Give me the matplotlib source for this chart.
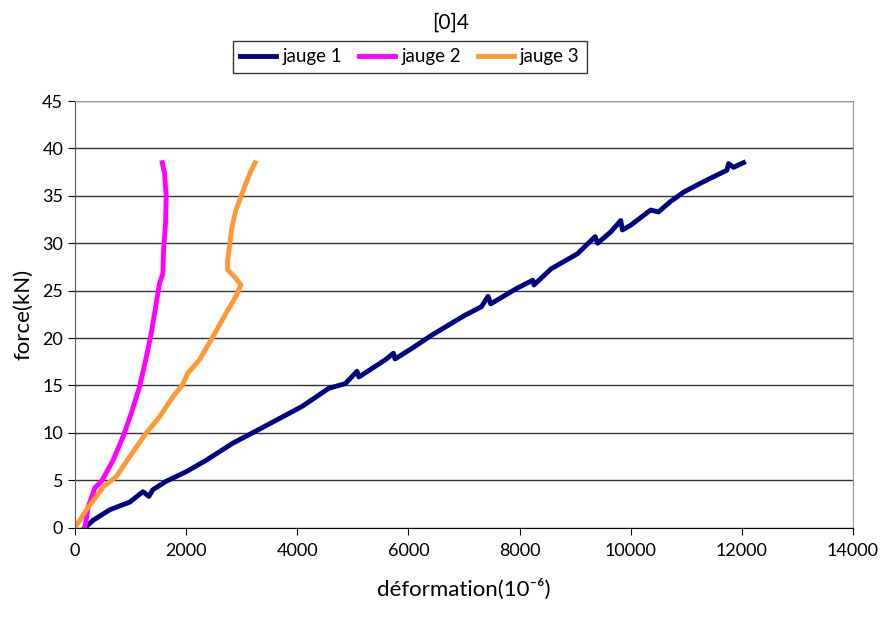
import matplotlib.pyplot as plt

# valeurs (déformation en 10^-6, force en kN)
j1_def = [180, 330, 630, 985, 1224, 1330, 1400, 1642, 2000, 2358, 2836, 3194, 3642,
          4090, 4567, 4866, 5075, 5110, 5582, 5730, 5760, 6060, 6418, 7015, 7313,
          7433, 7480, 7851, 7970, 8239, 8260, 8567, 9045, 9360, 9403, 9642, 9821,
          9850, 9999, 10358, 10500, 10716, 10955, 11313, 11731, 11761, 11850, 12030]
j1_force = [0, 0.8, 1.9, 2.7, 3.8, 3.3, 4.0, 4.9, 5.9, 7.1, 8.9, 10.0, 11.4,
            12.8, 14.7, 15.2, 16.5, 15.9, 17.7, 18.4, 17.8, 18.9, 20.3, 22.4, 23.3,
            24.4, 23.6, 24.9, 25.3, 26.1, 25.6, 27.3, 28.9, 30.7, 30.0, 31.2, 32.4,
            31.4, 31.9, 33.5, 33.3, 34.4, 35.4, 36.5, 37.7, 38.4, 38.0, 38.5]

j2_def = [179, 238, 358, 478, 686, 865, 1015, 1164, 1284, 1373, 1463, 1523, 1582,
          1594, 1630, 1642, 1612, 1570]
j2_force = [0, 2.2, 4.2, 4.9, 7.1, 9.6, 12.1, 14.9, 18.0, 20.5, 23.7, 25.8, 26.8,
            29.3, 32.1, 34.9, 37.4, 38.5]

j3_def = [0, 209, 508, 746, 985, 1284, 1523, 1761, 1940, 2030, 2239, 2478, 2717,
          2896, 2986, 2866, 2746, 2746, 2789, 2824, 2896, 2986, 3075, 3165, 3242]
j3_force = [0, 1.9, 4.3, 5.4, 7.5, 10.0, 11.7, 13.8, 15.1, 16.3, 17.7, 20.1, 22.6,
            24.4, 25.6, 26.5, 27.2, 28.2, 30.0, 31.7, 33.5, 34.9, 36.3, 37.6, 38.5]

plt.rcParams['font.family'] = ['Lato', 'DejaVu Sans']

fig = plt.figure(figsize=(8.8, 6.19), dpi=100)
ax = fig.add_axes([0.0852, 0.1475, 0.8841, 0.6893])

ax.plot(j1_def, j1_force, color='#000080', lw=3.5, label='jauge 1')
ax.plot(j2_def, j2_force, color='#FF00FF', lw=3.5, label='jauge 2')
ax.plot(j3_def, j3_force, color='#FF9933', lw=3.5, label='jauge 3')

ax.set_xlim(0, 14000)
ax.set_ylim(0, 45)
ax.set_xticks(range(0, 14001, 2000))
ax.set_yticks(range(0, 46, 5))
ax.yaxis.grid(True, color='#333333', lw=1)
ax.set_axisbelow(True)
ax.tick_params(direction='out', length=5, labelsize=13, color='black')
ax.tick_params(axis='x', pad=6)

for s in ['top', 'right']:
    ax.spines[s].set_color('#999999')
ax.spines['left'].set_color('#555555')
ax.spines['bottom'].set_color('black')

ax.set_xlabel('déformation(10⁻⁶)', fontsize=16, labelpad=14)
ax.set_ylabel('force(kN)', fontsize=16, labelpad=6)

fig.text(0.512, 0.963, '[0]4', ha='center', va='center', fontsize=15)
fig.legend(loc='center', bbox_to_anchor=(0.466, 0.908), ncol=3, fontsize=13.5,
           frameon=True, fancybox=False, edgecolor='black', handlelength=1.9,
           columnspacing=0.9, handletextpad=0.35, borderpad=0.4)

fig.savefig('out.png', dpi=100)
